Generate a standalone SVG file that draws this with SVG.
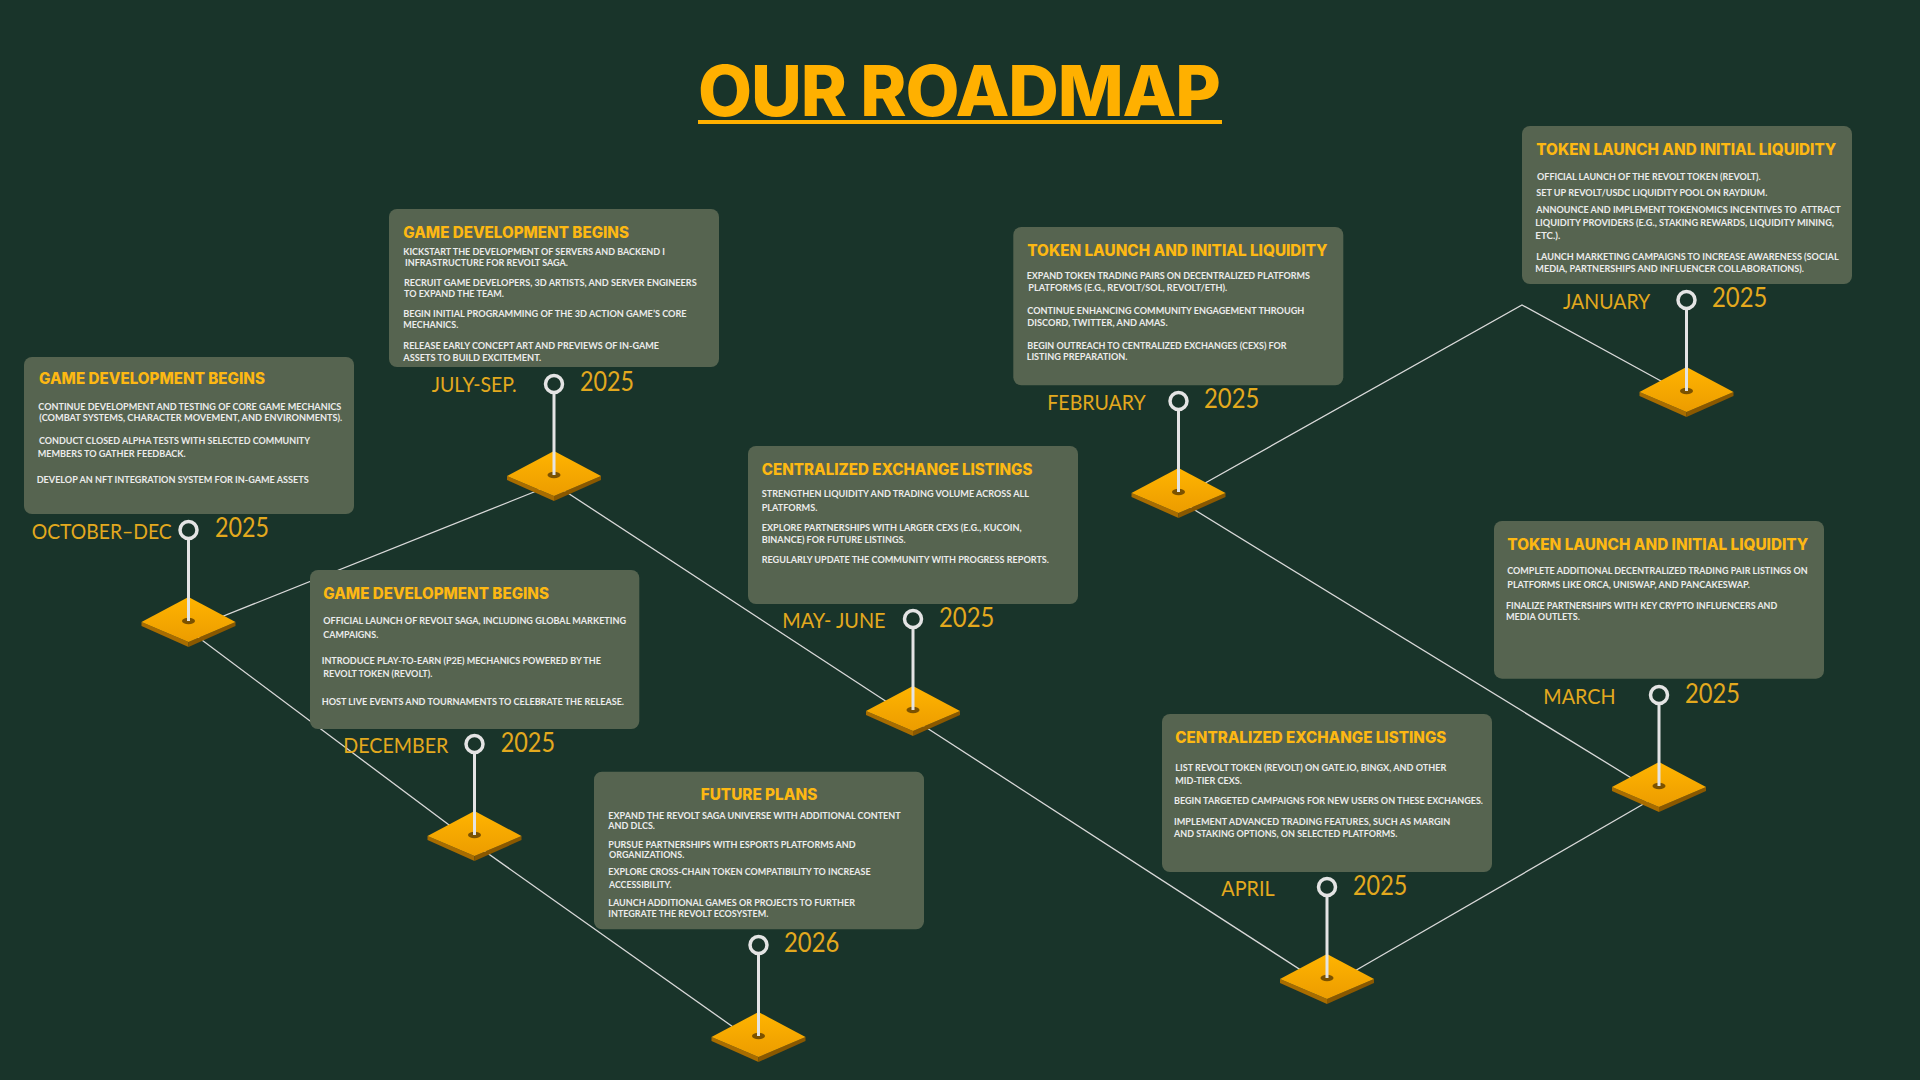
<svg xmlns="http://www.w3.org/2000/svg" xmlns:xlink="http://www.w3.org/1999/xlink" width="1920" height="1080" viewBox="0 0 1920 1080">
<defs>
<style>
.bg{fill:#19342a}
.box{fill:#566450}
.t{font-family:Inter,"Liberation Sans",sans-serif;font-weight:800;font-size:15.5px;fill:#FDB813}
.b{font-family:Lato,"Open Sans","Liberation Sans",sans-serif;font-weight:700;font-size:9.5px;fill:#ececec}
.m{font-family:Lato,"Open Sans","Liberation Sans",sans-serif;font-size:22px;fill:#E3A91E}
.y{font-family:Lato,"Open Sans","Liberation Sans",sans-serif;font-size:26px;fill:#E3A91E}
.ring{fill:#19342a;stroke:#e4e4e4;stroke-width:3.5}
.stem{stroke:#e4e4e4;stroke-width:3}
.conn{stroke:#d9d9d9;stroke-width:1.3;fill:none}
.head{font-family:Inter,"Liberation Sans",sans-serif;font-weight:800;font-size:70px;fill:#FFB000}
</style>
<linearGradient id="gold" gradientUnits="userSpaceOnUse" x1="0" y1="-24" x2="0" y2="21">
<stop offset="0" stop-color="#FFB400"/>
<stop offset="1" stop-color="#EC9C00"/>
</linearGradient>
<g id="dia">
<polygon points="-47,1 0,21 0,26 -47,5" fill="#a86c00"/>
<polygon points="47,1 0,21 0,26 47,5" fill="#8a5800"/>
<polygon points="0,-24 47,1 0,21 -47,1" fill="url(#gold)"/>
<ellipse cx="0" cy="0" rx="6.5" ry="3.2" fill="#7b5200"/>
</g>
</defs>
<rect class="bg" x="0" y="0" width="1920" height="1080"/>

<g id="title">
<text class="head" x="698" y="116" textLength="523" lengthAdjust="spacing">OUR ROADMAP</text>
<rect x="698" y="120" width="524" height="4" fill="#FFB000"/>
</g>

<g id="connectors">
<line class="conn" x1="188.5" y1="630" x2="554" y2="484"/>
<line class="conn" x1="188.5" y1="630" x2="474.5" y2="844"/>
<line class="conn" x1="474.5" y1="844" x2="758.5" y2="1045"/>
<line class="conn" x1="554" y1="484" x2="913" y2="719"/>
<line class="conn" x1="913" y1="719" x2="1327" y2="987"/>
<polyline class="conn" points="1178.5,498 1522,305 1686.5,395"/>
<line class="conn" x1="1178.5" y1="500" x2="1659" y2="795"/>
<line class="conn" x1="1659" y1="795" x2="1327" y2="987"/>
</g>

<g id="node-oct-dec">
<rect class="box" x="24" y="357" width="330" height="157" rx="8"/>
<text class="t" x="39" y="384" textLength="226" lengthAdjust="spacingAndGlyphs">GAME DEVELOPMENT BEGINS</text>
<text class="b" x="38.3" y="410" textLength="303" lengthAdjust="spacingAndGlyphs">CONTINUE DEVELOPMENT AND TESTING OF CORE GAME MECHANICS</text>
<text class="b" x="39.3" y="420.7" textLength="303" lengthAdjust="spacingAndGlyphs">(COMBAT SYSTEMS, CHARACTER MOVEMENT, AND ENVIRONMENTS).</text>
<text class="b" x="39" y="444.3" textLength="271" lengthAdjust="spacingAndGlyphs">CONDUCT CLOSED ALPHA TESTS WITH SELECTED COMMUNITY</text>
<text class="b" x="37.7" y="457.3" textLength="148" lengthAdjust="spacingAndGlyphs">MEMBERS TO GATHER FEEDBACK.</text>
<text class="b" x="36.7" y="483.3" textLength="272" lengthAdjust="spacingAndGlyphs">DEVELOP AN NFT INTEGRATION SYSTEM FOR IN-GAME ASSETS</text>
<text class="m" x="31.7" y="539.3" textLength="140" lengthAdjust="spacingAndGlyphs">OCTOBER–DEC</text>
<text class="y" x="215" y="537.3" textLength="54" lengthAdjust="spacingAndGlyphs">2025</text>
<use href="#dia" x="188.5" y="621"/>
<line class="stem" x1="188.5" y1="539" x2="188.5" y2="621"/>
<circle class="ring" cx="188.5" cy="530" r="8.5"/>
</g>

<g id="node-july-sep">
<rect class="box" x="389" y="209" width="330" height="158" rx="8"/>
<text class="t" x="403.3" y="237.7" textLength="225.7" lengthAdjust="spacingAndGlyphs">GAME DEVELOPMENT BEGINS</text>
<text class="b" x="403.3" y="255" textLength="261.7" lengthAdjust="spacingAndGlyphs">KICKSTART THE DEVELOPMENT OF SERVERS AND BACKEND I</text>
<text class="b" x="405" y="265.7" textLength="163" lengthAdjust="spacingAndGlyphs">INFRASTRUCTURE FOR REVOLT SAGA.</text>
<text class="b" x="404" y="286" textLength="292.7" lengthAdjust="spacingAndGlyphs">RECRUIT GAME DEVELOPERS, 3D ARTISTS, AND SERVER ENGINEERS</text>
<text class="b" x="404" y="296.7" textLength="100" lengthAdjust="spacingAndGlyphs">TO EXPAND THE TEAM.</text>
<text class="b" x="403.3" y="317.3" textLength="283.3" lengthAdjust="spacingAndGlyphs">BEGIN INITIAL PROGRAMMING OF THE 3D ACTION GAME’S CORE</text>
<text class="b" x="403.3" y="328.3" textLength="55" lengthAdjust="spacingAndGlyphs">MECHANICS.</text>
<text class="b" x="403.3" y="349" textLength="255.7" lengthAdjust="spacingAndGlyphs">RELEASE EARLY CONCEPT ART AND PREVIEWS OF IN-GAME</text>
<text class="b" x="403.3" y="361" textLength="138" lengthAdjust="spacingAndGlyphs">ASSETS TO BUILD EXCITEMENT.</text>
<text class="m" x="431.7" y="391.7" textLength="85" lengthAdjust="spacingAndGlyphs">JULY-SEP.</text>
<text class="y" x="580" y="390.7" textLength="54" lengthAdjust="spacingAndGlyphs">2025</text>
<use href="#dia" x="554" y="475"/>
<line class="stem" x1="554" y1="393" x2="554" y2="475"/>
<circle class="ring" cx="554" cy="384" r="8.5"/>
</g>

<g id="node-december">
<rect class="box" x="310" y="570" width="329.3" height="159" rx="8"/>
<text class="t" x="323.3" y="599.3" textLength="225.7" lengthAdjust="spacingAndGlyphs">GAME DEVELOPMENT BEGINS</text>
<text class="b" x="323.3" y="624" textLength="302.7" lengthAdjust="spacingAndGlyphs">OFFICIAL LAUNCH OF REVOLT SAGA, INCLUDING GLOBAL MARKETING</text>
<text class="b" x="323.3" y="637.7" textLength="55" lengthAdjust="spacingAndGlyphs">CAMPAIGNS.</text>
<text class="b" x="321.7" y="663.7" textLength="279.3" lengthAdjust="spacingAndGlyphs">INTRODUCE PLAY-TO-EARN (P2E) MECHANICS POWERED BY THE</text>
<text class="b" x="323.3" y="677" textLength="109" lengthAdjust="spacingAndGlyphs">REVOLT TOKEN (REVOLT).</text>
<text class="b" x="321.7" y="705" textLength="302.3" lengthAdjust="spacingAndGlyphs">HOST LIVE EVENTS AND TOURNAMENTS TO CELEBRATE THE RELEASE.</text>
<text class="m" x="343.3" y="753.3" textLength="105" lengthAdjust="spacingAndGlyphs">DECEMBER</text>
<text class="y" x="500.7" y="751.7" textLength="54.3" lengthAdjust="spacingAndGlyphs">2025</text>
<use href="#dia" x="474.5" y="835"/>
<line class="stem" x1="474.5" y1="753" x2="474.5" y2="835"/>
<circle class="ring" cx="474.5" cy="744" r="8.5"/>
</g>

<g id="node-may-june">
<rect class="box" x="748" y="446" width="330" height="158" rx="8"/>
<text class="t" x="761.7" y="475" textLength="270.7" lengthAdjust="spacingAndGlyphs">CENTRALIZED EXCHANGE LISTINGS</text>
<text class="b" x="761.7" y="497.3" textLength="267.3" lengthAdjust="spacingAndGlyphs">STRENGTHEN LIQUIDITY AND TRADING VOLUME ACROSS ALL</text>
<text class="b" x="761.7" y="511" textLength="55.7" lengthAdjust="spacingAndGlyphs">PLATFORMS.</text>
<text class="b" x="761.7" y="531" textLength="260" lengthAdjust="spacingAndGlyphs">EXPLORE PARTNERSHIPS WITH LARGER CEXS (E.G., KUCOIN,</text>
<text class="b" x="761.7" y="543.3" textLength="144" lengthAdjust="spacingAndGlyphs">BINANCE) FOR FUTURE LISTINGS.</text>
<text class="b" x="761.7" y="563.3" textLength="287.3" lengthAdjust="spacingAndGlyphs">REGULARLY UPDATE THE COMMUNITY WITH PROGRESS REPORTS.</text>
<text class="m" x="782.3" y="628.3" textLength="103.3" lengthAdjust="spacingAndGlyphs">MAY- JUNE</text>
<text class="y" x="939" y="626.7" textLength="55.3" lengthAdjust="spacingAndGlyphs">2025</text>
<use href="#dia" x="913" y="710"/>
<line class="stem" x1="913" y1="628" x2="913" y2="710"/>
<circle class="ring" cx="913" cy="619" r="8.5"/>
</g>

<g id="node-future">
<rect class="box" x="594" y="771.7" width="330" height="157.6" rx="8"/>
<text class="t" x="700.7" y="800" textLength="116.7" lengthAdjust="spacingAndGlyphs">FUTURE PLANS</text>
<text class="b" x="608.3" y="819.3" textLength="292.3" lengthAdjust="spacingAndGlyphs">EXPAND THE REVOLT SAGA UNIVERSE WITH ADDITIONAL CONTENT</text>
<text class="b" x="608.3" y="829" textLength="46.7" lengthAdjust="spacingAndGlyphs">AND DLCS.</text>
<text class="b" x="608.3" y="847.7" textLength="247.3" lengthAdjust="spacingAndGlyphs">PURSUE PARTNERSHIPS WITH ESPORTS PLATFORMS AND</text>
<text class="b" x="609" y="857.7" textLength="75.3" lengthAdjust="spacingAndGlyphs">ORGANIZATIONS.</text>
<text class="b" x="608.3" y="875" textLength="262.3" lengthAdjust="spacingAndGlyphs">EXPLORE CROSS-CHAIN TOKEN COMPATIBILITY TO INCREASE</text>
<text class="b" x="609" y="887.7" textLength="62.7" lengthAdjust="spacingAndGlyphs">ACCESSIBILITY.</text>
<text class="b" x="608.3" y="905.7" textLength="246.7" lengthAdjust="spacingAndGlyphs">LAUNCH ADDITIONAL GAMES OR PROJECTS TO FURTHER</text>
<text class="b" x="608.3" y="917.3" textLength="160" lengthAdjust="spacingAndGlyphs">INTEGRATE THE REVOLT ECOSYSTEM.</text>
<text class="y" x="784" y="952.3" textLength="55.3" lengthAdjust="spacingAndGlyphs">2026</text>
<use href="#dia" x="758.5" y="1036"/>
<line class="stem" x1="758.5" y1="954" x2="758.5" y2="1036"/>
<circle class="ring" cx="758.5" cy="945" r="8.5"/>
</g>

<g id="node-february">
<rect class="box" x="1013.3" y="227" width="330" height="158.3" rx="8"/>
<text class="t" x="1027.3" y="256.3" textLength="300.3" lengthAdjust="spacingAndGlyphs">TOKEN LAUNCH AND INITIAL LIQUIDITY</text>
<text class="b" x="1026.7" y="279.3" textLength="283.3" lengthAdjust="spacingAndGlyphs">EXPAND TOKEN TRADING PAIRS ON DECENTRALIZED PLATFORMS</text>
<text class="b" x="1028.3" y="291" textLength="199" lengthAdjust="spacingAndGlyphs">PLATFORMS (E.G., REVOLT/SOL, REVOLT/ETH).</text>
<text class="b" x="1027.3" y="313.7" textLength="277" lengthAdjust="spacingAndGlyphs">CONTINUE ENHANCING COMMUNITY ENGAGEMENT THROUGH</text>
<text class="b" x="1027.3" y="326.3" textLength="140.3" lengthAdjust="spacingAndGlyphs">DISCORD, TWITTER, AND AMAS.</text>
<text class="b" x="1027.3" y="348.7" textLength="259.3" lengthAdjust="spacingAndGlyphs">BEGIN OUTREACH TO CENTRALIZED EXCHANGES (CEXS) FOR</text>
<text class="b" x="1026.7" y="360.3" textLength="100.7" lengthAdjust="spacingAndGlyphs">LISTING PREPARATION.</text>
<text class="m" x="1047.3" y="410.3" textLength="98.3" lengthAdjust="spacingAndGlyphs">FEBRUARY</text>
<text class="y" x="1204" y="408" textLength="55.3" lengthAdjust="spacingAndGlyphs">2025</text>
<use href="#dia" x="1178.5" y="492"/>
<line class="stem" x1="1178.5" y1="410" x2="1178.5" y2="492"/>
<circle class="ring" cx="1178.5" cy="401" r="8.5"/>
</g>

<g id="node-january">
<rect class="box" x="1522" y="126" width="330" height="158" rx="8"/>
<text class="t" x="1536.3" y="155" textLength="300" lengthAdjust="spacingAndGlyphs">TOKEN LAUNCH AND INITIAL LIQUIDITY</text>
<text class="b" x="1537" y="180" textLength="223.7" lengthAdjust="spacingAndGlyphs">OFFICIAL LAUNCH OF THE REVOLT TOKEN (REVOLT).</text>
<text class="b" x="1536.3" y="196" textLength="231" lengthAdjust="spacingAndGlyphs">SET UP REVOLT/USDC LIQUIDITY POOL ON RAYDIUM.</text>
<text class="b" x="1536.3" y="213.3" textLength="304.3" lengthAdjust="spacingAndGlyphs" xml:space="preserve">ANNOUNCE AND IMPLEMENT TOKENOMICS INCENTIVES TO  ATTRACT</text>
<text class="b" x="1535.3" y="226" textLength="298.7" lengthAdjust="spacingAndGlyphs">LIQUIDITY PROVIDERS (E.G., STAKING REWARDS, LIQUIDITY MINING,</text>
<text class="b" x="1535.3" y="239.3" textLength="25" lengthAdjust="spacingAndGlyphs">ETC.).</text>
<text class="b" x="1536.3" y="260" textLength="302.3" lengthAdjust="spacingAndGlyphs">LAUNCH MARKETING CAMPAIGNS TO INCREASE AWARENESS (SOCIAL</text>
<text class="b" x="1535.3" y="271.7" textLength="268.7" lengthAdjust="spacingAndGlyphs">MEDIA, PARTNERSHIPS AND INFLUENCER COLLABORATIONS).</text>
<text class="m" x="1563" y="309.3" textLength="87.3" lengthAdjust="spacingAndGlyphs">JANUARY</text>
<text class="y" x="1712" y="307.3" textLength="55.3" lengthAdjust="spacingAndGlyphs">2025</text>
<use href="#dia" x="1686.5" y="391"/>
<line class="stem" x1="1686.5" y1="309" x2="1686.5" y2="391"/>
<circle class="ring" cx="1686.5" cy="300" r="8.5"/>
</g>

<g id="node-march">
<rect class="box" x="1494" y="521" width="330" height="157.7" rx="8"/>
<text class="t" x="1507.3" y="550.3" textLength="301" lengthAdjust="spacingAndGlyphs">TOKEN LAUNCH AND INITIAL LIQUIDITY</text>
<text class="b" x="1507.3" y="574.3" textLength="300.3" lengthAdjust="spacingAndGlyphs">COMPLETE ADDITIONAL DECENTRALIZED TRADING PAIR LISTINGS ON</text>
<text class="b" x="1507.3" y="588.3" textLength="242.7" lengthAdjust="spacingAndGlyphs">PLATFORMS LIKE ORCA, UNISWAP, AND PANCAKESWAP.</text>
<text class="b" x="1506" y="608.7" textLength="271.3" lengthAdjust="spacingAndGlyphs">FINALIZE PARTNERSHIPS WITH KEY CRYPTO INFLUENCERS AND</text>
<text class="b" x="1506" y="620.3" textLength="74" lengthAdjust="spacingAndGlyphs">MEDIA OUTLETS.</text>
<text class="m" x="1543.3" y="704.3" textLength="72.3" lengthAdjust="spacingAndGlyphs">MARCH</text>
<text class="y" x="1685" y="702.7" textLength="55" lengthAdjust="spacingAndGlyphs">2025</text>
<use href="#dia" x="1659" y="786"/>
<line class="stem" x1="1659" y1="704" x2="1659" y2="786"/>
<circle class="ring" cx="1659" cy="695" r="8.5"/>
</g>

<g id="node-april">
<rect class="box" x="1162" y="714" width="330" height="158" rx="8"/>
<text class="t" x="1175.3" y="743" textLength="271" lengthAdjust="spacingAndGlyphs">CENTRALIZED EXCHANGE LISTINGS</text>
<text class="b" x="1175.3" y="771.3" textLength="271" lengthAdjust="spacingAndGlyphs">LIST REVOLT TOKEN (REVOLT) ON GATE.IO, BINGX, AND OTHER</text>
<text class="b" x="1175.3" y="784" textLength="66.7" lengthAdjust="spacingAndGlyphs">MID-TIER CEXS.</text>
<text class="b" x="1174" y="804" textLength="309" lengthAdjust="spacingAndGlyphs">BEGIN TARGETED CAMPAIGNS FOR NEW USERS ON THESE EXCHANGES.</text>
<text class="b" x="1174" y="825.3" textLength="276.3" lengthAdjust="spacingAndGlyphs">IMPLEMENT ADVANCED TRADING FEATURES, SUCH AS MARGIN</text>
<text class="b" x="1174" y="837.3" textLength="223.3" lengthAdjust="spacingAndGlyphs">AND STAKING OPTIONS, ON SELECTED PLATFORMS.</text>
<text class="m" x="1221.3" y="896.3" textLength="53.3" lengthAdjust="spacingAndGlyphs">APRIL</text>
<text class="y" x="1353" y="894.7" textLength="54.3" lengthAdjust="spacingAndGlyphs">2025</text>
<use href="#dia" x="1327" y="978"/>
<line class="stem" x1="1327" y1="896" x2="1327" y2="978"/>
<circle class="ring" cx="1327" cy="887" r="8.5"/>
</g>
</svg>
